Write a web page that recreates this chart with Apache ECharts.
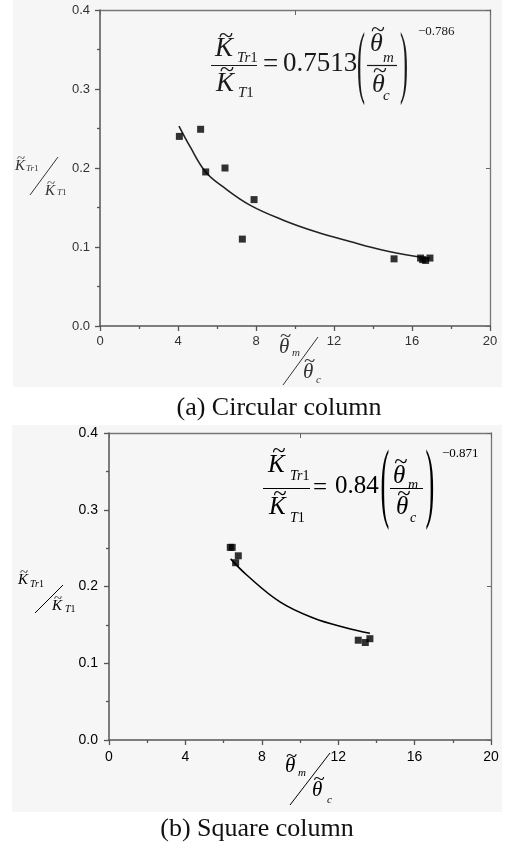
<!DOCTYPE html>
<html>
<head>
<meta charset="utf-8">
<script src="https://cdn.jsdelivr.net/npm/echarts/dist/echarts.min.js"></script>
<style>
  html, body { margin: 0; padding: 0; background: #fff; }
  #chart { width: 507px; height: 846px; }
</style>
</head>
<body>
<div id="chart"></div>
<script>
// (a) circular column: measured ratios
const circX = [4.07, 5.16, 5.42, 6.41, 7.30, 7.90, 15.08, 16.44, 16.55, 16.70, 16.92];
const circY = [0.240, 0.249, 0.195, 0.200, 0.110, 0.160, 0.085, 0.086, 0.084, 0.083, 0.086];
// (a) fitted power-law curve, traced points
const circFitX = [4.05, 4.62, 5.42, 6.32, 7.69, 9.40, 11.11, 12.82, 14.53, 16.58, 16.92];
const circFitY = [0.253, 0.227, 0.195, 0.176, 0.153, 0.134, 0.119, 0.107, 0.096, 0.0865, 0.0857];

// (b) square column: measured ratios
const sqX = [6.35, 6.45, 6.77, 6.63, 13.05, 13.42, 13.66];
const sqY = [0.251, 0.251, 0.240, 0.231, 0.130, 0.127, 0.132];
// (b) fitted curve, traced points
const sqFitX = [6.37, 7.21, 8.95, 10.70, 12.44, 13.66];
const sqFitY = [0.236, 0.215, 0.180, 0.159, 0.146, 0.139];

// axis ticks
const xTicks = { min: 0, max: 20, interval: 4 };
const yTicks = { min: 0, max: 0.4, interval: 0.1 };

// fit coefficients printed in the equations
const circCoef = '0.7513', circExp = '\u22120.786';
const sqCoef = '0.84', sqExp = '\u22120.871';

const captionA = '(a) Circular column';
const captionB = '(b) Square column';

const zip = (xs, ys) => xs.map((x, i) => [x, ys[i]]);

const SERIF = '"Liberation Serif", "Times New Roman", serif';
const SANS = '"Liberation Sans", Arial, sans-serif';

function txt(x, y, s, size, opt) {
  opt = opt || {};
  return {
    type: 'text', z: 100, x: x, y: y,
    scaleX: opt.sx || 1, scaleY: opt.sy || 1,
    style: {
      text: s,
      font: (opt.it ? 'italic ' : '') + size + 'px ' + (opt.family || SERIF),
      fill: opt.fill || '#111',
      textAlign: opt.align || 'left', align: opt.align || 'left',
      textVerticalAlign: 'middle', verticalAlign: 'middle'
    }
  };
}
function line(x1, y1, x2, y2, w, color) {
  return { type: 'line', z: 100, shape: { x1: x1, y1: y1, x2: x2, y2: y2 },
           style: { stroke: color || '#111', lineWidth: w || 1 } };
}
// a tilde-accented italic symbol with an optional subscript
function accented(xl, yc, ch, size, tx, ty, sub, subX, subY, subSize, col) {
  const out = [
    txt(xl, yc, ch, size, { it: true, fill: col }),
    txt(tx, ty, '~', size * 0.9, { align: 'center', fill: col, sx: 1.1 })
  ];
  if (sub) out.push(txt(subX, subY, sub, subSize, { it: true, fill: col }));
  return out;
}
function subscript(x, y, size, col, italicPart) {
  return {
    type: 'text', z: 100, x: x, y: y,
    style: {
      text: '{i|' + italicPart + '}{n|1}', textVerticalAlign: 'middle', verticalAlign: 'middle',
      rich: {
        i: { font: 'italic ' + size + 'px ' + SERIF, fill: col || '#111' },
        n: { font: size + 'px ' + SERIF, fill: col || '#111' }
      }
    }
  };
}

const graphics = [];
// image panels
graphics.push({ type: 'rect', z: -1, shape: { x: 13, y: 0, width: 489, height: 387 }, style: { fill: '#f6f6f6' } });
graphics.push({ type: 'rect', z: -1, shape: { x: 12, y: 425, width: 490, height: 387 }, style: { fill: '#f6f6f6' } });

// ---- equation (a)
const cA = '#1a1a1a';
graphics.push(...accented(215, 49, 'K', 27, 226, 37, null, 0, 0, 0, cA));
graphics.push(subscript(237, 58, 15, cA, 'Tr'));
graphics.push(line(211, 65.5, 257, 65.5, 1.2, cA));
graphics.push(...accented(216, 84, 'K', 27, 227, 71, null, 0, 0, 0, cA));
graphics.push(subscript(238, 93, 15, cA, 'T'));
graphics.push(txt(270.5, 65, '=', 27, { align: 'center', fill: cA }));
graphics.push(txt(283, 64, circCoef, 27, { fill: cA }));
graphics.push(txt(361, 67, '(', 80, { align: 'center', fill: cA, sx: 0.3 }));
graphics.push(...accented(370, 44, '\u03b8', 26, 378, 31, 'm', 383, 58, 15, cA));
graphics.push(line(367, 65.5, 397, 65.5, 1.2, cA));
graphics.push(...accented(372, 85, '\u03b8', 26, 380, 72, 'c', 383, 96, 15, cA));
graphics.push(txt(404, 67, ')', 80, { align: 'center', fill: cA, sx: 0.3 }));
graphics.push(txt(418, 32, circExp, 13, { fill: cA }));

// ---- equation (b)
const cB = '#000';
graphics.push(...accented(268, 465, 'K', 25, 279, 452, null, 0, 0, 0, cB));
graphics.push(subscript(290, 476, 14, cB, 'Tr'));
graphics.push(line(263, 488.5, 310, 488.5, 1.2, cB));
graphics.push(...accented(269, 507, 'K', 25, 280, 495, null, 0, 0, 0, cB));
graphics.push(subscript(290, 518, 14, cB, 'T'));
graphics.push(txt(320, 488, '=', 25, { align: 'center', fill: cB }));
graphics.push(txt(335, 486, sqCoef, 25, { fill: cB }));
graphics.push(txt(385, 488, '(', 88, { align: 'center', fill: cB, sx: 0.3 }));
graphics.push(...accented(393, 476, '\u03b8', 25, 401, 463, 'm', 408, 485, 14, cB));
graphics.push(line(390, 488.5, 423, 488.5, 1.2, cB));
graphics.push(...accented(396, 507.5, '\u03b8', 25, 404, 495.5, 'c', 410, 518.5, 14, cB));
graphics.push(txt(430, 488, ')', 88, { align: 'center', fill: cB, sx: 0.3 }));
graphics.push(txt(442, 454, sqExp, 13, { fill: cB }));

// ---- y-axis titles
graphics.push(...accented(15, 166, 'K', 15, 21, 158, null, 0, 0, 0, '#333'));
graphics.push(subscript(26, 169, 9, '#333', 'Tr'));
graphics.push(line(30, 195, 58, 157, 1, '#333'));
graphics.push(...accented(45, 191, 'K', 15, 51, 183, null, 0, 0, 0, '#333'));
graphics.push(subscript(57, 193, 9, '#333', 'T'));

graphics.push(...accented(18, 580, 'K', 15, 24, 572, null, 0, 0, 0, '#000'));
graphics.push(subscript(30, 584, 10, '#000', 'Tr'));
graphics.push(line(35, 613, 63, 585, 1, '#000'));
graphics.push(...accented(52, 606.5, 'K', 15, 58, 598.5, null, 0, 0, 0, '#000'));
graphics.push(subscript(65, 609, 10, '#000', 'T'));

// ---- x-axis titles
graphics.push(...accented(279, 347, '\u03b8', 21, 285.5, 337.5, 'm', 292, 353.5, 11, '#333'));
graphics.push(line(283, 385, 318, 337, 1, '#333'));
graphics.push(...accented(303, 372.5, '\u03b8', 21, 309.5, 362.5, 'c', 316, 380.5, 11, '#333'));

graphics.push(...accented(285, 766.5, '\u03b8', 21, 291.5, 757.5, 'm', 298, 773, 11, '#000'));
graphics.push(line(290, 805, 330, 753, 1, '#000'));
graphics.push(...accented(312, 790, '\u03b8', 21, 319, 780, 'c', 327, 800, 11, '#000'));

// ---- captions
graphics.push(txt(279, 408, captionA, 26, { align: 'center', fill: '#111' }));
graphics.push(txt(257, 829, captionB, 26, { align: 'center', fill: '#111' }));

function bottomAxis(grid, labelColor, size, margin) {
  return {
    type: 'value', gridIndex: grid, position: 'bottom',
    min: xTicks.min, max: xTicks.max, interval: xTicks.interval,
    axisLine: { show: true, onZero: false, lineStyle: { color: '#555', width: 1.5 } },
    axisTick: { show: true, inside: false, length: 5, lineStyle: { color: '#555', width: 1.3 } },
    minorTick: { show: true, splitNumber: 2, length: 3, lineStyle: { color: '#555', width: 1.3 } },
    splitLine: { show: false },
    axisLabel: { color: labelColor, fontSize: size, fontFamily: SANS, margin: margin }
  };
}
function leftAxis(grid, labelColor, size, margin) {
  return {
    type: 'value', gridIndex: grid, position: 'left',
    min: yTicks.min, max: yTicks.max, interval: yTicks.interval,
    axisLine: { show: true, onZero: false, lineStyle: { color: '#555', width: 1.5 } },
    axisTick: { show: true, inside: false, length: 5, lineStyle: { color: '#555', width: 1.3 } },
    minorTick: { show: true, splitNumber: 2, length: 3, lineStyle: { color: '#555', width: 1.3 } },
    splitLine: { show: false },
    axisLabel: { color: labelColor, fontSize: size, fontFamily: SANS, margin: margin,
                 formatter: v => v.toFixed(1) }
  };
}
function topAxis(grid) {
  return {
    type: 'value', gridIndex: grid, position: 'top', min: 0, max: 20, interval: 10,
    axisLine: { show: true, onZero: false, lineStyle: { color: '#777', width: 1.3 } },
    axisTick: { show: true, inside: true, length: 5, lineStyle: { color: '#666' } },
    axisLabel: { show: false }, splitLine: { show: false }
  };
}
function rightAxis(grid) {
  return {
    type: 'value', gridIndex: grid, position: 'right', min: 0, max: 0.4, interval: 0.2,
    axisLine: { show: true, onZero: false, lineStyle: { color: '#777', width: 1.3 } },
    axisTick: { show: true, inside: true, length: 4, lineStyle: { color: '#666' } },
    axisLabel: { show: false }, splitLine: { show: false }
  };
}

const chart = echarts.init(document.getElementById('chart'), null, { renderer: 'canvas' });
chart.setOption({
  animation: false,
  backgroundColor: '#fff',
  grid: [
    { left: 100, top: 10, width: 390, height: 316 },
    { left: 109, top: 433, width: 382, height: 307 }
  ],
  xAxis: [
    bottomAxis(0, '#333', 13, 9), topAxis(0),
    bottomAxis(1, '#000', 14, 10), topAxis(1)
  ],
  yAxis: [
    leftAxis(0, '#333', 13, 10), rightAxis(0),
    leftAxis(1, '#000', 14, 11), rightAxis(1)
  ],
  graphic: graphics,
  series: [
    { type: 'line', xAxisIndex: 0, yAxisIndex: 0, data: zip(circFitX, circFitY),
      smooth: 0.4, showSymbol: false, lineStyle: { color: '#222', width: 1.6 }, z: 3 },
    { type: 'scatter', xAxisIndex: 0, yAxisIndex: 0, data: zip(circX, circY),
      symbol: 'rect', symbolSize: 7, itemStyle: { color: '#000' }, z: 4 },
    { type: 'line', xAxisIndex: 2, yAxisIndex: 2, data: zip(sqFitX, sqFitY),
      smooth: 0.4, showSymbol: false, lineStyle: { color: '#000', width: 1.6 }, z: 3 },
    { type: 'scatter', xAxisIndex: 2, yAxisIndex: 2, data: zip(sqX, sqY),
      symbol: 'rect', symbolSize: 7, itemStyle: { color: '#000' }, z: 4 }
  ]
});
</script>
</body>
</html>
